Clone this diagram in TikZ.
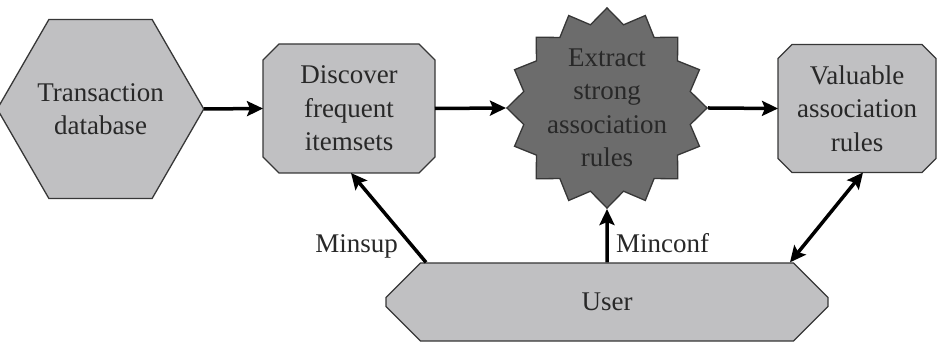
\documentclass[tikz,border=0pt]{standalone}
\usepackage{fontspec}
\setmainfont{Liberation Serif}
\usetikzlibrary{shapes.geometric,shapes.misc,arrows.meta,calc,backgrounds}
\definecolor{lightfill}{RGB}{192,192,194}
\definecolor{darkfill}{RGB}{108,108,108}
\definecolor{edgecol}{RGB}{55,55,55}
\definecolor{textcol}{RGB}{40,40,40}
\newcommand\chamfbox[2]{%
  \draw[boxshape] ($(#1.north west)+(#2,0)$) -- ($(#1.north east)+(-#2,0)$) -- ($(#1.north east)+(0,#2)$)
   -- ($(#1.south east)+(0,-#2)$) -- ($(#1.south east)+(-#2,0)$) -- ($(#1.south west)+(#2,0)$)
   -- ($(#1.south west)+(0,-#2)$) -- ($(#1.north west)+(0,#2)$) -- cycle;}
\begin{document}
\begin{tikzpicture}[x=1pt,y=-1pt,
  every node/.style={font=\fontsize{27}{33.5}\selectfont, text=textcol, align=center, inner sep=0pt},
  boxshape/.style={draw=edgecol, line width=1.3pt, fill=lightfill},
  plainbox/.style={rectangle, outer sep=0pt},
  flow/.style={line width=3.5pt, draw=black, -{Stealth[length=16pt,width=15pt,inset=3pt]}},
  flowboth/.style={line width=3.5pt, draw=black, {Stealth[length=16pt,width=15pt,inset=3pt]}-{Stealth[length=16pt,width=15pt,inset=3pt]}},
  lbl/.style={font=\fontsize{27}{30}\selectfont}
]
\useasboundingbox (0,0) rectangle (937,347);
\node[boxshape, regular polygon, regular polygon sides=6, minimum size=156pt, outer sep=0pt] (trans) at (100.5,109) {Transaction\\database};
\node[plainbox, minimum width=172pt, minimum height=129pt] (disc) at (349,108.5) {Discover\\frequent\\itemsets};
\node[draw=edgecol, line width=1.3pt, fill=darkfill, star, star points=16, star point ratio=1.18, minimum size=200pt] (star) at (607,108) {Extract\\strong\\association\\rules};
\node[plainbox, minimum width=158pt, minimum height=128pt] (val) at (857,108.5) {Valuable\\association\\rules};
\node[boxshape, chamfered rectangle, chamfered rectangle xsep=41pt, chamfered rectangle ysep=39pt, minimum width=442pt, minimum height=78pt] (user) at (607,302) {User};
\begin{scope}[on background layer]
  \chamfbox{disc}{16}
  \chamfbox{val}{14}
\end{scope}
\coordinate (uleft) at ($(user.north)+(-181,0)$);
\coordinate (uright) at ($(user.north)+(183,0)$);
\coordinate (vbot) at ($(val.south)+(6,0)$);
\draw[flow] (trans.east) -- (disc.west);
\draw[flow] (disc.east) -- (star.west);
\draw[flow] (star.east) -- (val.west);
\draw[flow] (uleft) -- ($(disc.south)+(2,0)$);
\draw[flow] (user.north) -- (star.south);
\draw[flowboth] (uright) -- (vbot);
\node[lbl, anchor=base east] (minsup) at (398,253) {Minsup};
\node[lbl, anchor=base west] (minconf) at (616,253) {Minconf};
\end{tikzpicture}
\end{document}
